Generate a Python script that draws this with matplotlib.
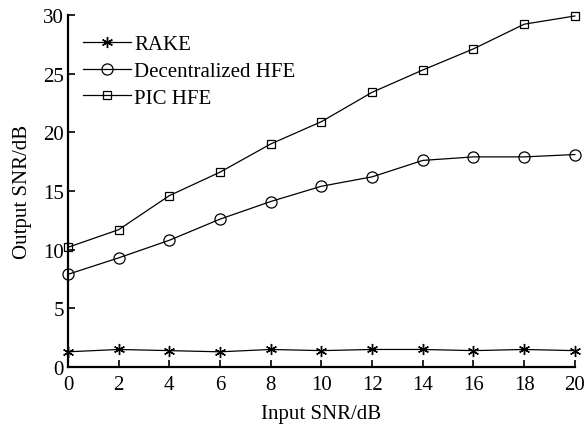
import matplotlib.pyplot as plt

plt.rcParams['font.family'] = ['Liberation Serif', 'DejaVu Serif']

snr_in = [0, 2, 4, 6, 8, 10, 12, 14, 16, 18, 20]
rake = [1.3, 1.5, 1.4, 1.3, 1.5, 1.4, 1.5, 1.5, 1.4, 1.5, 1.4]
dec_hfe = [7.9, 9.3, 10.8, 12.6, 14.1, 15.4, 16.2, 17.6, 17.9, 17.9, 18.1]
pic_hfe = [10.2, 11.7, 14.6, 16.6, 19.0, 20.9, 23.4, 25.3, 27.1, 29.2, 29.9]

fig = plt.figure(figsize=(5.86, 4.27), dpi=100)
ax = fig.add_axes([0.116, 0.138, 0.865, 0.825])

# asterisk marker for RAKE
ax.plot(snr_in, rake, color='black', lw=0.9, marker=(6, 2, 0), ms=8,
        mew=1.0, label='RAKE', clip_on=False)
ax.plot(snr_in, dec_hfe, color='black', lw=0.9, marker='o', ms=8,
        mfc='none', mew=0.9, label='Decentralized HFE', clip_on=False)
ax.plot(snr_in, pic_hfe, color='black', lw=0.9, marker='s', ms=6,
        mfc='none', mew=0.9, label='PIC HFE', clip_on=False)

ax.set_xlim(0, 20)
ax.set_ylim(0, 30)
ax.set_xticks(range(0, 21, 2))
ax.set_yticks(range(0, 31, 5))
ax.spines['top'].set_visible(False)
ax.spines['right'].set_visible(False)
ax.spines['left'].set_linewidth(1.6)
ax.spines['bottom'].set_linewidth(1.6)
ax.tick_params(direction='in', length=5, width=1.2, labelsize=15)
ax.tick_params(axis='x', pad=6)
ax.tick_params(axis='y', pad=3)
ax.set_xlabel('Input SNR/dB', fontsize=15, labelpad=7)
ax.set_ylabel('Output SNR/dB', fontsize=15, labelpad=8)

ax.legend(loc='upper left', frameon=False, fontsize=15, handlelength=2.3,
          handletextpad=0.15, labelspacing=0.35, borderaxespad=0.2,
          bbox_to_anchor=(0.005, 0.98))

fig.savefig('out.png', dpi=100)
